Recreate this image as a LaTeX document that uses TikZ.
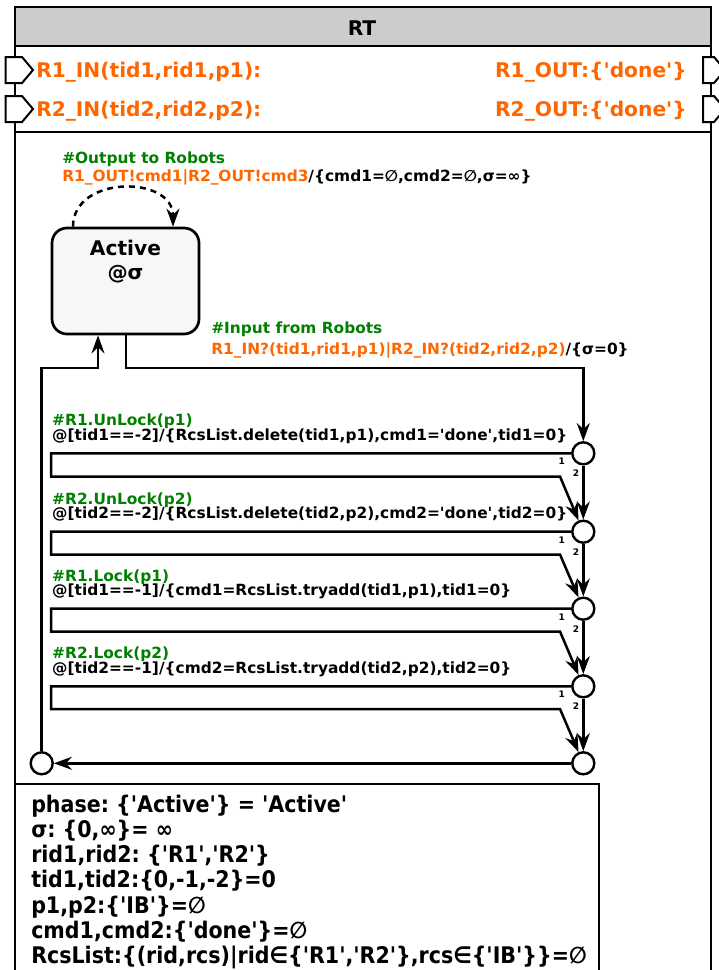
\documentclass[tikz,border=0pt]{standalone}
\usepackage{fontspec}
\setmainfont{DejaVu Sans}
\newfontfamily\condfont{DejaVu Sans Condensed}
\usetikzlibrary{arrows.meta}
\definecolor{porange}{RGB}{255,102,0}
\definecolor{pgreen}{RGB}{0,128,0}
\definecolor{titlegray}{RGB}{204,204,204}
\definecolor{statefill}{RGB}{247,247,247}
\newcommand{\sq}{\textquotesingle}
\frenchspacing
\begin{document}
\begin{tikzpicture}[x=1pt,y=-1pt,line width=2.5pt,
  tip/.style={-{Stealth[length=18pt,width=13pt,inset=6pt]}},
  lbl/.style={anchor=base west,inner sep=0pt,font=\fontsize{15.4}{18}\selectfont\bfseries},
  big/.style={inner sep=0pt,font=\fontsize{20.2}{24}\selectfont\bfseries},
  varl/.style={anchor=base west,inner sep=0pt,font=\condfont\fontsize{22.9}{26}\selectfont\bfseries},
  junction/.style={circle,draw,fill=white,minimum size=22pt,inner sep=0pt,line width=2.4pt},
  num/.style={inner sep=0pt,font=\fontsize{9}{10}\selectfont\bfseries},
  port/.style={draw,fill=white,line width=2pt},
  statebox/.style={draw,rectangle,rounded corners=15pt,minimum width=147pt,minimum height=106pt,fill=statefill,line width=2.7pt},
]
\useasboundingbox (0,0) rectangle (719,970);
% frame
\fill[titlegray] (15,7) rectangle (711,46);
\draw (15,975) -- (15,7) -- (711,7) -- (711,975);
\draw (15,46) -- (711,46);
\draw (15,132) -- (711,132);
\node[big,anchor=base] (title) at (362,35) {RT};
% ports
\foreach \yy in {57,96} {
  \draw[port] (5.7,\yy) -- (22,\yy) -- (33,\yy+13) -- (22,\yy+26) -- (5.7,\yy+26) -- cycle;
  \draw[port] (703,\yy) -- (714,\yy) -- (725,\yy+13) -- (714,\yy+26) -- (703,\yy+26) -- cycle;
}
\node[big,anchor=base west,text=porange] (in1) at (35,77.3) {R1\_IN(tid1,rid1,p1):};
\node[big,anchor=base west,text=porange] (in2) at (35,116.3) {R2\_IN(tid2,rid2,p2):};
\node[big,anchor=base east,text=porange] (out1) at (688,77.3) {R1\_OUT:\{\sq done\sq\}};
\node[big,anchor=base east,text=porange] (out2) at (688,116.3) {R2\_OUT:\{\sq done\sq\}};
% state
\node[statebox] (active) at (125.5,281) {};
\node[big,anchor=base] (act1) at (125.5,255) {Active};
\node[big,anchor=base] (act2) at (125.5,279.5) {@σ};
% output self transition
\draw[dashed,dash pattern=on 6pt off 5pt,tip] ([xshift=-52.5pt]active.north) .. controls (73,175) and (173,175) .. ([xshift=47.5pt]active.north);
\node[lbl,text=pgreen] (outg) at (61,163) {\#Output to Robots};
\node[lbl] (outb) at (61,181) {\textcolor{porange}{R1\_OUT!cmd1|R2\_OUT!cmd3}/\{cmd1=∅,cmd2=∅,σ=∞\}};
% input label
\node[lbl,text=pgreen] (ing) at (210,333.3) {\#Input from Robots};
\node[lbl] (inb) at (210,354) {\textcolor{porange}{R1\_IN?(tid1,rid1,p1)|R2\_IN?(tid2,rid2,p2)}/\{σ=0\}};
% junctions
\node[junction] (j1) at (583.3,453.3) {};
\node[junction] (j2) at (583.3,531.7) {};
\node[junction] (j3) at (583.3,608.7) {};
\node[junction] (j4) at (583.3,686.3) {};
\node[junction] (j5) at (583.3,763.3) {};
\node[junction] (jl) at (41.7,763.3) {};
% input transition
\draw[tip] ([xshift=0.5pt]active.south) -- (126,368) -- (583.3,368) -- (j1);
% return
\draw[tip] (jl) -- (41.7,368) -- (98,368) -- ([xshift=-27.5pt]active.south);
% chain
\draw[tip] (j1) -- (j2);
\draw[tip] (j2) -- (j3);
\draw[tip] (j3) -- (j4);
\draw[tip] (j4) -- (j5);
\draw[tip] (j5) -- (jl);
% loops
\draw[tip] (j1) -- (51,453.3) -- (51,476.5) -- (560,476.5) -- (j2);
\draw[tip] (j2) -- (51,531.7) -- (51,554.5) -- (560,554.5) -- (j3);
\draw[tip] (j3) -- (51,608.7) -- (51,631.5) -- (560,631.5) -- (j4);
\draw[tip] (j4) -- (51,686.3) -- (51,709) -- (560,709) -- (j5);
% 1/2 labels
\foreach \yy/\i in {453.3/1,531.7/2,608.7/3,686.3/4} {
  \node[num] (na\i) at (561.7,\yy+8.4) {1};
  \node[num] (nb\i) at (576,\yy+20) {2};
}
% branch labels
\node[lbl,text=pgreen] (g1) at (51,425.6) {\#R1.UnLock(p1)};
\node[lbl] (b1) at (51,440.5) {@[tid1==-2]/\{RcsList.delete(tid1,p1),cmd1=\sq done\sq,tid1=0\}};
\node[lbl,text=pgreen] (g2) at (51,504) {\#R2.UnLock(p2)};
\node[lbl] (b2) at (51,518.9) {@[tid2==-2]/\{RcsList.delete(tid2,p2),cmd2=\sq done\sq,tid2=0\}};
\node[lbl,text=pgreen] (g3) at (51,581) {\#R1.Lock(p1)};
\node[lbl] (b3) at (51,595.9) {@[tid1==-1]/\{cmd1=RcsList.tryadd(tid1,p1),tid1=0\}};
\node[lbl,text=pgreen] (g4) at (51,658.6) {\#R2.Lock(p2)};
\node[lbl] (b4) at (51,673.5) {@[tid2==-1]/\{cmd2=RcsList.tryadd(tid2,p2),tid2=0\}};
% variables box
\draw (15,784) -- (599,784) -- (599,975);
\node[varl] (v1) at (30,812) {phase: \{\sq Active\sq\} = \sq Active\sq};
\node[varl] (v2) at (30,837.3) {σ: \{0,∞\}= ∞};
\node[varl] (v3) at (30,862.6) {rid1,rid2: \{\sq R1\sq,\sq R2\sq\}};
\node[varl] (v4) at (30,887.9) {tid1,tid2:\{0,-1,-2\}=0};
\node[varl] (v5) at (30,913.2) {p1,p2:\{\sq IB\sq\}=∅};
\node[varl] (v6) at (30,938.5) {cmd1,cmd2:\{\sq done\sq\}=∅};
\node[varl] (v7) at (30,963.8) {RcsList:\{(rid,rcs)|rid∈\{\sq R1\sq,\sq R2\sq\},rcs∈\{\sq IB\sq\}\}=∅};
\end{tikzpicture}
\end{document}
